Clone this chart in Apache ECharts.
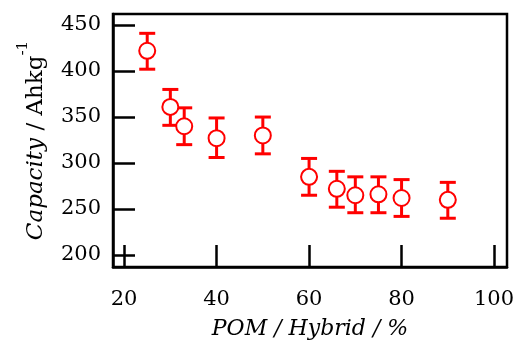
<!DOCTYPE html>
<html>
<head>
<meta charset="utf-8">
<script src="https://cdn.jsdelivr.net/npm/echarts@6/dist/echarts.min.js"></script>
<style>
  html, body { margin: 0; padding: 0; background: #fff; }
  #chart { width: 517px; height: 340px; }
</style>
</head>
<body>
<div id="chart"></div>
<script>
// POM fraction in hybrid (%) and measured capacity (Ah/kg)
const pomPercent = [25, 30, 33, 40, 50, 60, 66, 70, 75, 80, 90];
const capacity = [422, 361, 340, 327, 330, 285, 272, 265, 266, 262, 260];
const errUpper = [441, 380, 360, 349, 350, 305, 291, 285, 285, 282, 279];
const errLower = [402, 341, 320, 306, 310, 265, 252, 246, 246, 242, 240];
const xTicks = [20, 40, 60, 80, 100];
const yTicks = [200, 250, 300, 350, 400, 450];

const red = "#ff0000";
const font = "'DejaVu Serif', 'Liberation Serif', serif";

const chart = echarts.init(document.getElementById("chart"), null, { renderer: "canvas" });

const baseAxis = {
  axisLine: { show: true, lineStyle: { color: "#000", width: 2.5 } },
  axisTick: { show: true, inside: true, length: 22, lineStyle: { color: "#000", width: 2.5 } },
  splitLine: { show: false },
  axisLabel: { color: "#000", fontFamily: font, fontSize: 21 },
};

chart.setOption({
  animation: false,
  grid: {
    left: 113, right: 10, top: 14, bottom: 73,
    outerBoundsMode: "none",
    containLabel: false,
    show: true, borderColor: "#000", borderWidth: 2.5,
  },
  xAxis: {
    type: "value",
    min: 17.6,
    max: 102.8,
    ...baseAxis,
    axisTick: { ...baseAxis.axisTick, customValues: xTicks },
    axisLabel: { ...baseAxis.axisLabel, margin: 22, customValues: xTicks },
    name: "POM / Hybrid / %",
    nameLocation: "middle",
    nameGap: 51,
    nameTextStyle: { color: "#000", fontFamily: font, fontSize: 22, fontStyle: "italic" },
  },
  yAxis: {
    type: "value",
    min: 187,
    max: 462,
    ...baseAxis,
    axisTick: { ...baseAxis.axisTick, customValues: yTicks },
    axisLabel: { ...baseAxis.axisLabel, margin: 12, customValues: yTicks },
    name: "{i|Capacity}{n| / Ahkg}{s|-1}",
    nameLocation: "middle",
    nameGap: 65,
    nameTextStyle: {
      color: "#000", fontFamily: font, fontSize: 23,
      rich: {
        i: { fontFamily: font, fontSize: 23, fontStyle: "italic", color: "#000", lineHeight: 32, verticalAlign: "bottom" },
        n: { fontFamily: font, fontSize: 23, color: "#000", lineHeight: 32, verticalAlign: "bottom" },
        s: { fontFamily: font, fontSize: 15, color: "#000", lineHeight: 32, verticalAlign: "top" },
      },
    },
  },
  series: [
    {
      type: "custom",
      name: "error",
      data: pomPercent.map((x, i) => [x, errLower[i], errUpper[i]]),
      z: 2,
      renderItem: (params, api) => {
        const lo = api.coord([api.value(0), api.value(1)]);
        const hi = api.coord([api.value(0), api.value(2)]);
        const half = 8;
        const style = { stroke: red, lineWidth: 3 };
        return {
          type: "group",
          children: [
            { type: "line", shape: { x1: lo[0], y1: lo[1], x2: hi[0], y2: hi[1] }, style },
            { type: "line", shape: { x1: hi[0] - half, y1: hi[1], x2: hi[0] + half, y2: hi[1] }, style },
            { type: "line", shape: { x1: lo[0] - half, y1: lo[1], x2: lo[0] + half, y2: lo[1] }, style },
          ],
        };
      },
    },
    {
      type: "scatter",
      name: "capacity",
      data: pomPercent.map((x, i) => [x, capacity[i]]),
      symbol: "circle",
      symbolSize: 16,
      z: 3,
      itemStyle: { color: "#fff", borderColor: red, borderWidth: 2, opacity: 1 },
    },
  ],
});
</script>
</body>
</html>
